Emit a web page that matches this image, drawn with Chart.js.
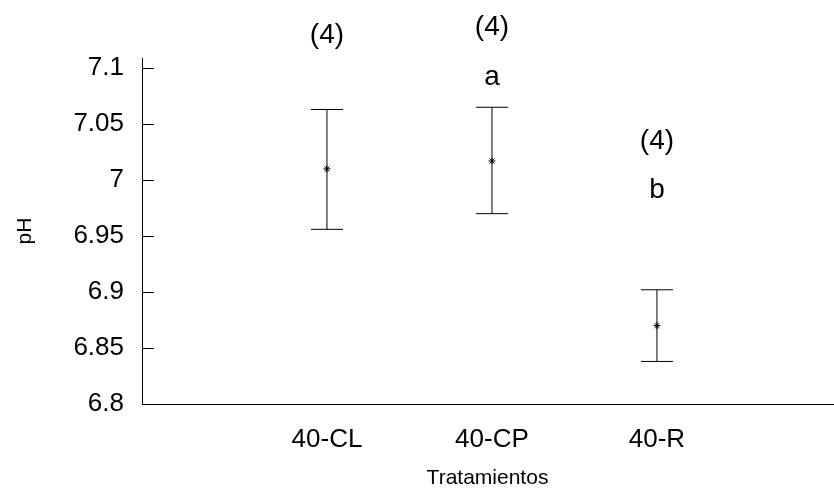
<!DOCTYPE html>
<html>
<head>
<meta charset="utf-8">
<script src="https://cdn.jsdelivr.net/npm/chart.js@4.4.1/dist/chart.umd.min.js"></script>
<style>
  html, body { margin: 0; padding: 0; background: #fff; overflow: hidden; }
  #wrap { width: 834px; height: 489px; position: relative; }
  #c { display: block; }
</style>
</head>
<body>
<div id="wrap"><canvas id="c"></canvas></div>
<script>
// treatments and pH values
const categories = ['40-CL', '40-CP', '40-R'];
const catPos = [1, 2, 3];
const means = [7.010, 7.017, 6.870];
const lows = [6.956, 6.970, 6.838];
const highs = [7.063, 7.065, 6.902];
const yTicks = [6.8, 6.85, 6.9, 6.95, 7, 7.05, 7.1];
const yTickLabels = ['6.8', '6.85', '6.9', '6.95', '7', '7.05', '7.1'];

// text notes above each treatment: n and letters (y given in pH units)
const notes = [
  { cat: 0, text: '(4)', y: 7.129 },
  { cat: 1, text: '(4)', y: 7.136 },
  { cat: 1, text: 'a', y: 7.092 },
  { cat: 2, text: '(4)', y: 7.035 },
  { cat: 2, text: 'b', y: 6.991 }
];

const FONT = '"Liberation Sans", Arial, sans-serif';

// vertical error lines as broken line segments
const barSegs = [];
catPos.forEach((x, i) => {
  barSegs.push({ x: x, y: lows[i] });
  barSegs.push({ x: x, y: highs[i] });
  barSegs.push({ x: x, y: null });
});
const caps = [];
catPos.forEach((x, i) => {
  caps.push({ x: x, y: lows[i] });
  caps.push({ x: x, y: highs[i] });
});

const extras = {
  id: 'extras',
  afterDraw(chart) {
    const ctx = chart.ctx;
    const xs = chart.scales.x, ys = chart.scales.y;
    ctx.save();
    // inner y ticks
    ctx.strokeStyle = '#000';
    ctx.lineWidth = 1;
    yTicks.forEach(v => {
      const py = Math.round(ys.getPixelForValue(v)) + 0.5;
      ctx.beginPath();
      ctx.moveTo(xs.left, py);
      ctx.lineTo(xs.left + 12, py);
      ctx.stroke();
    });
    // notes
    ctx.fillStyle = '#000';
    ctx.font = '28px ' + FONT;
    ctx.textAlign = 'center';
    ctx.textBaseline = 'middle';
    notes.forEach(n => {
      ctx.fillText(n.text, xs.getPixelForValue(catPos[n.cat]), ys.getPixelForValue(n.y));
    });
    ctx.restore();
  }
};

new Chart(document.getElementById('c'), {
  type: 'scatter',
  data: {
    datasets: [
      {
        data: barSegs,
        showLine: true,
        spanGaps: false,
        borderColor: '#000',
        borderWidth: 1,
        pointRadius: 0
      },
      {
        data: caps,
        pointStyle: 'line',
        pointRadius: 16,
        borderColor: '#000',
        borderWidth: 1
      },
      {
        data: catPos.map((x, i) => ({ x: x, y: means[i] })),
        pointStyle: 'star',
        pointRadius: 3.5,
        borderColor: '#000',
        backgroundColor: '#000',
        borderWidth: 1
      }
    ]
  },
  options: {
    responsive: true,
    maintainAspectRatio: false,
    animation: false,
    layout: { autoPadding: false, padding: { top: 58, right: 1, left: 0, bottom: 0 } },
    plugins: {
      legend: { display: false },
      tooltip: { enabled: false }
    },
    scales: {
      x: {
        type: 'linear',
        min: -0.121,
        max: 4.067,
        grid: { display: false, tickLength: 0 },
        border: { display: true, color: '#000', width: 1 },
        afterBuildTicks: s => { s.ticks = catPos.map(v => ({ value: v })); },
        afterFit: s => { s.height = 85; s.paddingLeft = 0; s.paddingRight = 0; },
        ticks: {
          color: '#000',
          font: { family: FONT, size: 26 },
          padding: 20,
          maxRotation: 0,
          autoSkip: false,
          callback: v => categories[catPos.indexOf(v)] || ''
        },
        title: {
          display: true,
          text: 'Tratamientos',
          color: '#000',
          font: { family: FONT, size: 21, lineHeight: 1 },
          padding: { top: 0, bottom: 0 }
        }
      },
      y: {
        min: 6.8,
        max: 7.109,
        grid: { display: false, tickLength: 0 },
        border: { display: true, color: '#000', width: 1 },
        afterBuildTicks: s => { s.ticks = yTicks.map(v => ({ value: v })); },
        afterFit: s => { s.width = 142; },
        ticks: {
          color: '#000',
          font: { family: FONT, size: 26 },
          padding: 18,
          callback: v => yTickLabels[yTicks.findIndex(t => Math.abs(t - v) < 1e-6)]
        },
        title: {
          display: true,
          text: 'pH',
          color: '#000',
          font: { family: FONT, size: 21, lineHeight: 1 },
          padding: { top: 15, bottom: 15 }
        }
      }
    }
  },
  plugins: [extras]
});
</script>
</body>
</html>
